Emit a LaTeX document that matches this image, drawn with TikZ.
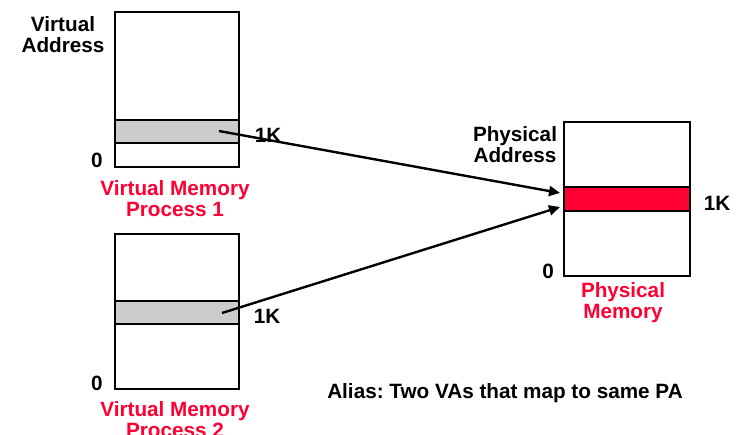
\documentclass[tikz,border=0pt]{standalone}
\usepackage{fontspec}
\setmainfont{Liberation Sans}
\usetikzlibrary{arrows.meta}
\definecolor{alred}{RGB}{255,0,51}
\definecolor{bandgray}{RGB}{204,204,204}
\frenchspacing
\begin{document}
\begin{tikzpicture}[x=1pt,y=-1pt,
  mem/.style={draw,line width=1.1pt,anchor=north west,inner sep=0pt,outer sep=0pt,minimum width=124,minimum height=155},
  band/.style={draw,line width=1.1pt,anchor=north west,inner sep=0pt,outer sep=0pt,minimum width=124,minimum height=23},
  lbl/.style={font=\fontsize{20.7}{21}\selectfont\bfseries,align=center,inner sep=0pt},
  redlbl/.style={lbl,text=alred},
  link/.style={line width=2.4pt,-{Triangle[length=11pt,width=10pt]}}
]
\useasboundingbox (0,0) rectangle (743,435);
% virtual memory 1
\node[mem] (vm1) at (115,12) {};
\node[band,fill=bandgray] (b1) at (115,120) {};
\node[lbl] (va) at (63,35) {Virtual\\Address};
\node[lbl] (k1) at (268,135) {1K};
\node[lbl] (z1) at (97,160) {0};
\node[redlbl] (vmp1) at (175,199) {Virtual Memory\\Process 1};
% virtual memory 2
\node[mem] (vm2) at (115,234) {};
\node[band,fill=bandgray] (b2) at (115,301) {};
\node[lbl] (k2) at (267,316) {1K};
\node[lbl] (z2) at (97,383) {0};
\node[redlbl] (vmp2) at (175,420) {Virtual Memory\\Process 2};
% physical memory
\node[mem,minimum width=126,minimum height=154] (pm) at (564,122) {};
\node[band,fill=alred,minimum width=126,minimum height=24] (pb) at (564,187) {};
\node[lbl] (pa) at (515,145) {Physical\\Address};
\node[lbl] (k3) at (717,203) {1K};
\node[lbl] (z3) at (548,271) {0};
\node[redlbl] (pml) at (623,303) {Physical\\Memory};
\node[lbl] (alias) at (505,393) {Alias: Two VAs that map to same PA};
% connectors
\coordinate (s1) at (219,131);
\coordinate (s2) at (222,313);
\coordinate (e1) at (560,193);
\coordinate (e2) at (560,207);
\draw[link] (s1) -- (e1);
\draw[link] (s2) -- (e2);
\end{tikzpicture}
\end{document}
